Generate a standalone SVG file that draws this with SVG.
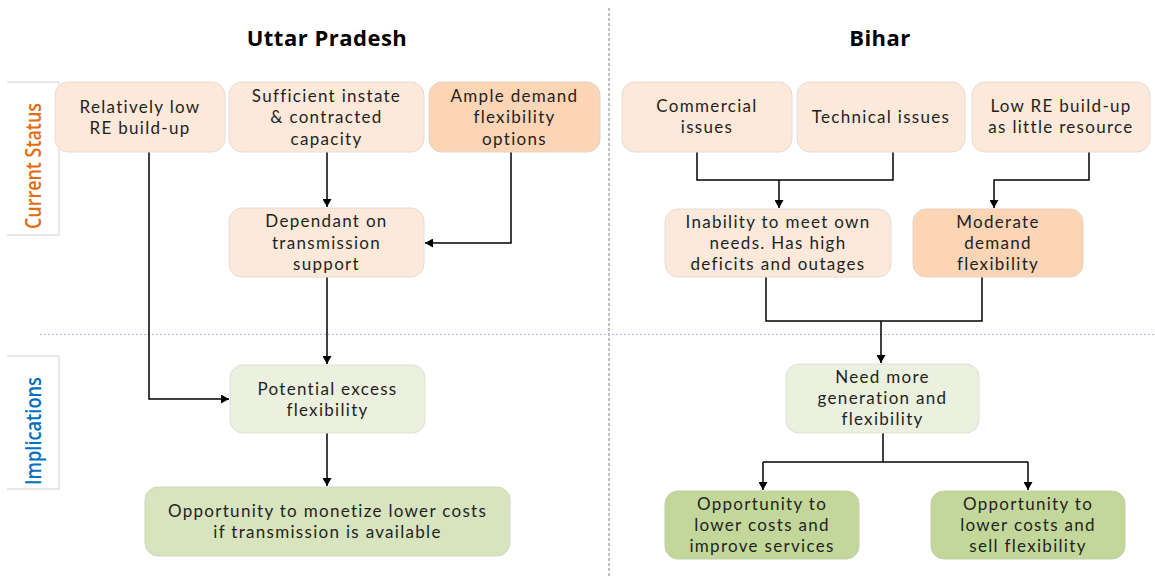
<svg xmlns="http://www.w3.org/2000/svg" width="1155" height="577" viewBox="0 0 1155 577">
<defs>
<marker id="arr" markerUnits="userSpaceOnUse" markerWidth="9" markerHeight="9" refX="8" refY="4.5" orient="auto">
<path d="M0,0 L8,4.5 L0,9 z" fill="#000"/>
</marker>
<style>
.peach{fill:#FDE9D9;stroke:#E4DCD6;stroke-width:1}
.orange{fill:#FBD5B5;stroke:#E6D2C2;stroke-width:1}
.lgreen{fill:#EBF1DE;stroke:#DCE0D4;stroke-width:1}
.mgreen{fill:#D7E4BD;stroke:#D0D8C0;stroke-width:1}
.dgreen{fill:#C4D79B;stroke:#C2CDA8;stroke-width:1}
.t{font-family:Lato,"Open Sans","Liberation Sans",sans-serif;font-size:17px;letter-spacing:1.3px;fill:#1F1F1F;text-anchor:middle}
.title{font-family:"Open Sans","Liberation Sans",sans-serif;font-size:22px;letter-spacing:0.5px;font-weight:bold;fill:#000;text-anchor:middle}
.conn{fill:none;stroke:#000;stroke-width:1.5}
.lbox{fill:none;stroke:#D0D0D0;stroke-width:1}
</style>
</defs>
<rect width="1155" height="577" fill="#fff"/>

<!-- dividers -->
<line x1="609" y1="8" x2="609" y2="577" stroke="#808080" stroke-width="1" stroke-dasharray="3,2"/>
<line x1="40" y1="334.5" x2="1155" y2="334.5" stroke="#A9BCD9" stroke-width="1.2" stroke-dasharray="2,2"/>

<!-- titles -->
<text class="title" x="327" y="46">Uttar Pradesh</text>
<text class="title" x="880" y="46">Bihar</text>

<!-- side labels -->
<g id="label-current">
<path class="lbox" d="M7,82 H59 V235 H7"/>
<text transform="translate(41,166) rotate(-90)" text-anchor="middle" font-family="'Open Sans','Liberation Sans',sans-serif" font-size="22" font-weight="600" fill="#E46C0A" textLength="126" lengthAdjust="spacingAndGlyphs">Current Status</text>
</g>
<g id="label-implications">
<path class="lbox" d="M7,356 H59 V489 H7"/>
<text transform="translate(41,431) rotate(-90)" text-anchor="middle" font-family="'Open Sans','Liberation Sans',sans-serif" font-size="22" font-weight="600" fill="#0070C0" textLength="108" lengthAdjust="spacingAndGlyphs">Implications</text>
</g>

<!-- connectors -->
<g id="connectors">
<path class="conn" d="M327,152 V207" marker-end="url(#arr)"/>
<path class="conn" d="M511,152 V243 H425" marker-end="url(#arr)"/>
<path class="conn" d="M327,277 V364" marker-end="url(#arr)"/>
<path class="conn" d="M149,152 V399 H229" marker-end="url(#arr)"/>
<path class="conn" d="M327,433 V486" marker-end="url(#arr)"/>

<path class="conn" d="M697,152 V180 H893 V152"/>
<path class="conn" d="M779,180 V208" marker-end="url(#arr)"/>
<path class="conn" d="M1089,152 V180 H994 V208" marker-end="url(#arr)"/>
<path class="conn" d="M766,277 V321 H982 V277"/>
<path class="conn" d="M881,321 V363" marker-end="url(#arr)"/>
<path class="conn" d="M883,433 V462"/>
<path class="conn" d="M763,462 H1028"/>
<path class="conn" d="M763,462 V490" marker-end="url(#arr)"/>
<path class="conn" d="M1028,462 V490" marker-end="url(#arr)"/>
</g>

<!-- Uttar Pradesh nodes -->
<g id="up-re">
<rect class="peach" x="55" y="82" width="170" height="70" rx="13"/>
<text class="t" x="140"><tspan x="140" y="112.5">Relatively low</tspan><tspan x="140" y="133.5">RE build-up</tspan></text>
</g>
<g id="up-capacity">
<rect class="peach" x="229" y="82" width="195" height="70" rx="13"/>
<text class="t"><tspan x="326.5" y="101.5">Sufficient instate</tspan><tspan x="326.5" y="123">&amp; contracted</tspan><tspan x="326.5" y="144.5">capacity</tspan></text>
</g>
<g id="up-demand">
<rect class="orange" x="429" y="82" width="171" height="70" rx="13"/>
<text class="t"><tspan x="514.5" y="101.5">Ample demand</tspan><tspan x="514.5" y="123">flexibility</tspan><tspan x="514.5" y="144.5">options</tspan></text>
</g>
<g id="up-transmission">
<rect class="peach" x="229" y="208" width="195" height="69" rx="13"/>
<text class="t"><tspan x="326.5" y="227">Dependant on</tspan><tspan x="326.5" y="248.5">transmission</tspan><tspan x="326.5" y="270">support</tspan></text>
</g>
<g id="up-excess">
<rect class="lgreen" x="230" y="365" width="195" height="68" rx="13"/>
<text class="t"><tspan x="327.5" y="394.5">Potential excess</tspan><tspan x="327.5" y="415.5">flexibility</tspan></text>
</g>
<g id="up-opportunity">
<rect class="mgreen" x="145" y="487" width="365" height="69" rx="13"/>
<text class="t"><tspan x="327.5" y="516.5">Opportunity to monetize lower costs</tspan><tspan x="327.5" y="537.5">if transmission is available</tspan></text>
</g>

<!-- Bihar nodes -->
<g id="bh-commercial">
<rect class="peach" x="622" y="82" width="170" height="70" rx="13"/>
<text class="t"><tspan x="707" y="112">Commercial</tspan><tspan x="707" y="133">issues</tspan></text>
</g>
<g id="bh-technical">
<rect class="peach" x="797" y="82" width="168" height="70" rx="13"/>
<text class="t" x="881" y="123">Technical issues</text>
</g>
<g id="bh-lowre">
<rect class="peach" x="972" y="82" width="178" height="70" rx="13"/>
<text class="t"><tspan x="1061" y="112">Low RE build-up</tspan><tspan x="1061" y="133">as little resource</tspan></text>
</g>
<g id="bh-inability">
<rect class="peach" x="665" y="209" width="226" height="68" rx="13"/>
<text class="t"><tspan x="778" y="227.5">Inability to meet own</tspan><tspan x="778" y="248.5">needs. Has high</tspan><tspan x="778" y="269.5">deficits and outages</tspan></text>
</g>
<g id="bh-moderate">
<rect class="orange" x="913" y="209" width="170" height="68" rx="13"/>
<text class="t"><tspan x="998" y="227.5">Moderate</tspan><tspan x="998" y="248.5">demand</tspan><tspan x="998" y="269.5">flexibility</tspan></text>
</g>
<g id="bh-need">
<rect class="lgreen" x="786" y="364" width="193" height="69" rx="13"/>
<text class="t"><tspan x="882.5" y="383">Need more</tspan><tspan x="882.5" y="404">generation and</tspan><tspan x="882.5" y="425">flexibility</tspan></text>
</g>
<g id="bh-opp-services">
<rect class="dgreen" x="665" y="491" width="194" height="68" rx="13"/>
<text class="t"><tspan x="762" y="509.5">Opportunity to</tspan><tspan x="762" y="530.5">lower costs and</tspan><tspan x="762" y="551.5">improve services</tspan></text>
</g>
<g id="bh-opp-flex">
<rect class="dgreen" x="931" y="491" width="194" height="68" rx="13"/>
<text class="t"><tspan x="1028" y="509.5">Opportunity to</tspan><tspan x="1028" y="530.5">lower costs and</tspan><tspan x="1028" y="551.5">sell flexibility</tspan></text>
</g>
</svg>
